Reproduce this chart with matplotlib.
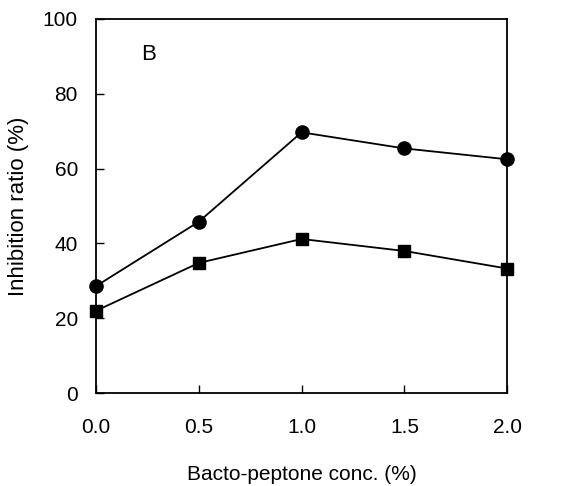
import matplotlib
matplotlib.use("Agg")
import matplotlib.pyplot as plt

conc = [0.0, 0.5, 1.0, 1.5, 2.0]
circle_vals = [28.6, 45.8, 69.7, 65.4, 62.5]
square_vals = [22.0, 34.8, 41.2, 38.0, 33.3]
x_ticks = [0.0, 0.5, 1.0, 1.5, 2.0]
x_tick_labels = ["0.0", "0.5", "1.0", "1.5", "2.0"]
y_ticks = [0, 20, 40, 60, 80, 100]

plt.rcParams['font.family'] = ['Liberation Sans', 'DejaVu Sans']

fig = plt.figure(figsize=(5.85, 4.86), dpi=100)
ax = fig.add_axes([0.164, 0.191, 0.703, 0.770])

ax.plot(conc, circle_vals, color='black', lw=1.3, marker='o', markersize=9.5,
        markerfacecolor='black', markeredgecolor='black', clip_on=False, zorder=3)
ax.plot(conc, square_vals, color='black', lw=1.3, marker='s', markersize=9,
        markerfacecolor='black', markeredgecolor='black', clip_on=False, zorder=3)

ax.set_xlim(0, 2.0)
ax.set_ylim(0, 100)
ax.set_xticks(x_ticks)
ax.set_xticklabels(x_tick_labels)
ax.set_yticks(y_ticks)
ax.tick_params(direction='in', length=6, width=1.0, labelsize=15)
ax.tick_params(axis='y', pad=13)
ax.tick_params(axis='x', pad=18)
for s in ax.spines.values():
    s.set_linewidth(1.3)

ax.set_xlabel("Bacto-peptone conc. (%)", fontsize=15, labelpad=20)
ax.set_ylabel("Inhibition ratio (%)", fontsize=16, labelpad=10)
ax.text(0.258, 90.6, "B", fontsize=16, ha='center', va='center')

fig.savefig("out.png", dpi=100)
